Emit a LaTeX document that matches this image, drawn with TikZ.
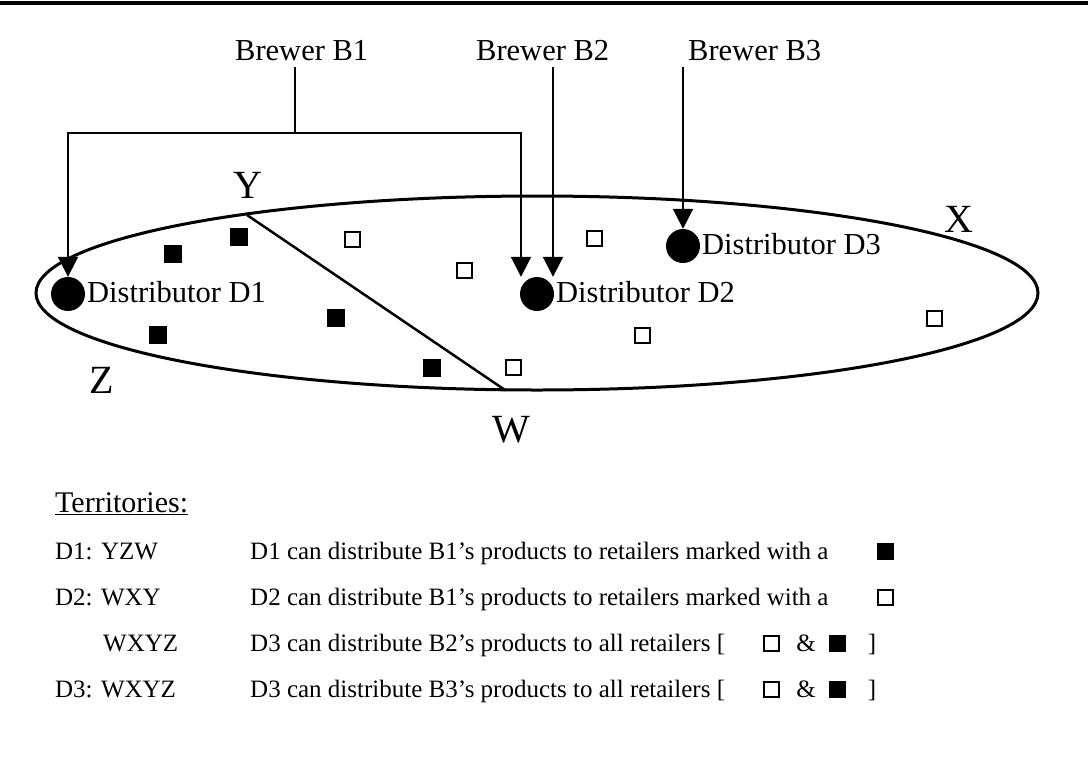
\documentclass[tikz,border=0pt]{standalone}
\usepackage{fontspec}
\setmainfont{Liberation Serif}
\usetikzlibrary{arrows.meta}
\begin{document}
\begin{tikzpicture}[x=1pt,y=-1pt,
  conn/.style={line width=2pt},
  arr/.style={conn,-{Triangle[length=20pt,width=20pt]}},
  dot/.style={circle,fill=black,minimum size=34pt,inner sep=0pt},
  fsq/.style={rectangle,fill=black,minimum size=18pt,inner sep=0pt},
  osq/.style={rectangle,draw=black,line width=2pt,minimum size=15pt,inner sep=0pt},
  bfont/.style={font=\fontsize{30.5pt}{36pt}\selectfont,inner sep=0pt},
  big/.style={font=\fontsize{40pt}{48pt}\selectfont,inner sep=0pt},
  tfont/.style={font=\fontsize{25pt}{30pt}\selectfont,inner sep=0pt},
  hfont/.style={font=\fontsize{30pt}{36pt}\selectfont,inner sep=0pt}
]
\useasboundingbox (0,0) rectangle (1088,761);
% top rule
\draw[line width=4.5pt] (0,3) -- (1088,3);

% brewers
\node[bfont,anchor=base west] (b1) at (235,60) {Brewer B1};
\node[bfont,anchor=base west] (b2) at (476,60) {Brewer B2};
\node[bfont,anchor=base west] (b3) at (688,60) {Brewer B3};

% territory ellipse and boundary
\draw[line width=3pt] (537,293) ellipse [x radius=501pt, y radius=97pt];
\coordinate (Yp) at (247,215);
\coordinate (Wp) at (505,390);
\draw[line width=2.5pt] (Yp) -- (Wp);

% distributors
\node[dot] (d1) at (68,294) {};
\node[dot] (d2) at (537,294) {};
\node[dot] (d3) at (683,246) {};
\node[bfont,anchor=base west] (d1l) at (87,302) {Distributor D1};
\node[bfont,anchor=base west] (d2l) at (556,302) {Distributor D2};
\node[bfont,anchor=base west] (d3l) at (702,254) {Distributor D3};

% connectors
\coordinate (b1s) at (295,67);
\coordinate (j1) at (295,133);
\coordinate (b2s) at (553,67);
\coordinate (b3s) at (683,67);
\draw[conn] (b1s) -- (j1);
\draw[arr] (j1) -| (d1.north);
\draw[arr] (j1) -| ([xshift=-16pt]d2.north);
\draw[arr] (b2s) -- ([xshift=16pt]d2.north);
\draw[arr] (b3s) -- (d3.north);

% corner labels
\node[big,anchor=base] (ly) at (248,198) {Y};
\node[big,anchor=base] (lx) at (959,232) {X};
\node[big,anchor=base] (lz) at (102,393) {Z};
\node[big,anchor=base] (lw) at (511,442) {W};

% retailers
\node[fsq] (f1) at (239,237) {};
\node[fsq] (f2) at (173,254) {};
\node[fsq] (f3) at (158,335) {};
\node[fsq] (f4) at (336,318) {};
\node[fsq] (f5) at (432,368) {};
\node[osq] (o1) at (352,239) {};
\node[osq] (o2) at (464,270) {};
\node[osq] (o3) at (594,238) {};
\node[osq] (o4) at (642,335) {};
\node[osq] (o5) at (513,367) {};
\node[osq] (o6) at (934,318) {};

% legend
\node[hfont,anchor=base west] (terr) at (55,512) {\underline{Territories:}};
\node[tfont,anchor=base west] (r1a) at (55,559) {D1: YZW};
\node[tfont,anchor=base west] (r1b) at (250,559) {D1 can distribute B1’s products to retailers marked with a};
\node[fsq,minimum size=17pt] (r1s) at (885,551) {};
\node[tfont,anchor=base west] (r2a) at (55,605) {D2: WXY};
\node[tfont,anchor=base west] (r2b) at (250,605) {D2 can distribute B1’s products to retailers marked with a};
\node[osq] (r2s) at (885,597) {};
\node[tfont,anchor=base west] (r3a) at (103,651) {WXYZ};
\node[tfont,anchor=base west] (r3b) at (250,651) {D3 can distribute B2’s products to all retailers [};
\node[osq] (r3o) at (771,643) {};
\node[tfont,anchor=base] (r3m) at (806,651) {\&};
\node[fsq,minimum size=17pt] (r3f) at (837,643) {};
\node[tfont,anchor=base] (r3c) at (872,651) {]};
\node[tfont,anchor=base west] (r4a) at (55,697) {D3: WXYZ};
\node[tfont,anchor=base west] (r4b) at (250,697) {D3 can distribute B3’s products to all retailers [};
\node[osq] (r4o) at (771,689) {};
\node[tfont,anchor=base] (r4m) at (806,697) {\&};
\node[fsq,minimum size=17pt] (r4f) at (837,689) {};
\node[tfont,anchor=base] (r4c) at (872,697) {]};
\end{tikzpicture}
\end{document}
